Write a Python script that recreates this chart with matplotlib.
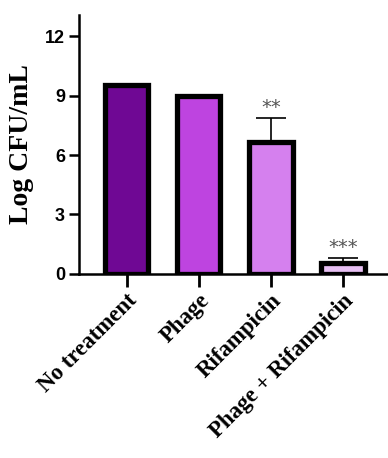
import matplotlib
matplotlib.use("Agg")
import matplotlib.pyplot as plt
import numpy as np

categories = ["No treatment", "Phage", "Rifampicin", "Phage + Rifampicin"]
values = [9.54, 8.97, 6.67, 0.52]
errors = [0.05, 0.05, 1.19, 0.26]
stars = ["", "", "**", "***"]
colors = ["#6F0894", "#BE44E0", "#D580EE", "#E8C0F4"]
yticks = [0, 3, 6, 9, 12]

fig = plt.figure(figsize=(3.88, 4.58), dpi=100)
ax = fig.add_axes([79/388, 184.3/458, 308/388, (273.7-15)/458])

x = np.arange(len(categories))
ax.bar(x, values, width=0.6, color=colors, edgecolor="black", linewidth=3.8, zorder=2)
ax.errorbar(x, values, yerr=[np.zeros(len(values)), errors], fmt="none",
            ecolor="black", elinewidth=1.2, capsize=11, capthick=1.2, zorder=1)
for xi, v, e, s in zip(x, values, errors, stars):
    if s:
        ax.text(xi, v + e + 0.05, s, ha="center", va="bottom", fontsize=14,
                color="#555555", family="DejaVu Sans")

ax.set_xlim(-0.66, 3.61)
ax.set_ylim(0, 13.08)
ax.set_yticks(yticks)
ax.set_yticklabels([str(t) for t in yticks], fontsize=13, fontweight="bold",
                   family="Liberation Sans")
ax.set_xticks(x)
ax.set_xticklabels(categories, rotation=45, ha="right", rotation_mode="anchor",
                   fontsize=16.5, fontweight="bold", family="Liberation Serif")
ax.set_ylabel("Log CFU/mL", fontsize=20, fontweight="bold", family="Liberation Serif",
              labelpad=8)
for sp in ["top", "right"]:
    ax.spines[sp].set_visible(False)
for sp in ["left", "bottom"]:
    ax.spines[sp].set_linewidth(1.8)
ax.tick_params(axis="x", length=9, width=2, pad=3)
ax.tick_params(axis="y", length=7, width=1.8, pad=3)

fig.savefig("out.png", dpi=100)
